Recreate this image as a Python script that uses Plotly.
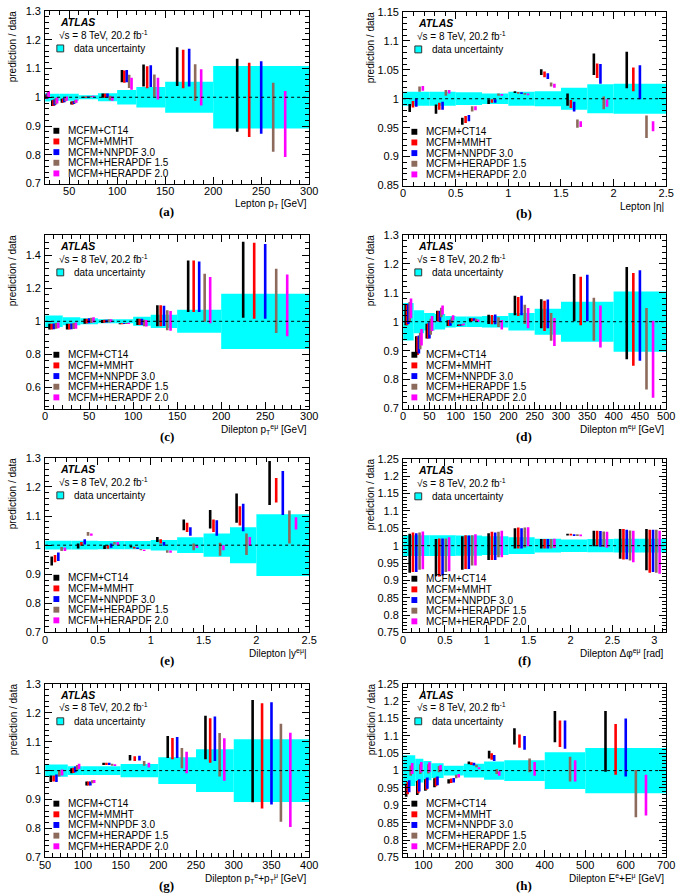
import plotly.graph_objects as go

# ---------------- data ----------------
PDF_NAMES = ["MCFM+CT14", "MCFM+MMHT", "MCFM+NNPDF 3.0", "MCFM+HERAPDF 1.5", "MCFM+HERAPDF 2.0"]

# (a) Lepton pT
A_EDGES = [25, 30, 40, 50, 60, 80, 100, 120, 150, 200, 300]
A_UNC = [0.015, 0.012, 0.012, 0.012, 0.007, 0.014, 0.025, 0.036, 0.054, 0.109]
A_CT14 = [(0.994, 1.010), (0.970, 0.990), (0.981, 0.995), (0.975, 0.985), (0.998, 1.002), (0.998, 1.013), (1.052, 1.095), (1.037, 1.114), (1.039, 1.174), (0.880, 1.134)]
A_MMHT = [(0.995, 1.012), (0.970, 0.991), (0.982, 0.996), (0.975, 0.986), (0.998, 1.003), (0.998, 1.013), (1.050, 1.093), (1.031, 1.108), (1.031, 1.165), (0.862, 1.120)]
A_NNPDF = [(0.996, 1.013), (0.972, 0.993), (0.983, 0.997), (0.977, 0.987), (0.999, 1.003), (0.998, 1.013), (1.052, 1.095), (1.036, 1.111), (1.037, 1.169), (0.873, 1.125)]
A_HERA15 = [(0.998, 1.018), (0.975, 0.997), (0.986, 1.000), (0.979, 0.990), (1.000, 1.004), (0.990, 1.005), (1.032, 1.078), (1.002, 1.079), (0.987, 1.115), (0.811, 1.050)]
A_HERA20 = [(1.000, 1.022), (0.978, 1.000), (0.988, 1.003), (0.981, 0.992), (1.000, 1.005), (0.988, 1.003), (1.026, 1.068), (0.992, 1.068), (0.971, 1.097), (0.792, 1.022)]

# (b) Lepton |eta|
B_EDGES = [0, 0.25, 0.5, 0.75, 1.0, 1.25, 1.5, 1.75, 2.0, 2.5]
B_UNC = [0.012, 0.012, 0.011, 0.009, 0.012, 0.013, 0.019, 0.025, 0.026]
B_CT14 = [(0.977, 0.991), (0.974, 0.990), (0.955, 0.967), (0.991, 0.999), (1.010, 1.013), (1.041, 1.051), (0.988, 1.009), (1.041, 1.078), (1.018, 1.081)]
B_MMHT = [(0.985, 0.996), (0.981, 0.993), (0.958, 0.970), (0.993, 0.999), (1.009, 1.011), (1.037, 1.047), (0.984, 0.998), (1.036, 1.061), (1.013, 1.054)]
B_NNPDF = [(0.986, 1.000), (0.981, 0.995), (0.961, 0.972), (0.993, 0.999), (1.008, 1.011), (1.034, 1.044), (0.978, 0.995), (1.026, 1.060), (0.999, 1.058)]
B_HERA15 = [(1.012, 1.021), (1.005, 1.015), (0.978, 0.987), (1.005, 1.009), (1.007, 1.010), (1.021, 1.028), (0.950, 0.964), (0.982, 1.004), (0.932, 0.971)]
B_HERA20 = [(1.014, 1.022), (1.009, 1.015), (0.980, 0.987), (1.005, 1.008), (1.006, 1.009), (1.019, 1.026), (0.951, 0.961), (0.986, 0.999), (0.944, 0.961)]

# (c) Dilepton pT
C_EDGES = [0, 20, 40, 60, 80, 100, 120, 150, 200, 300]
C_UNC = [0.035, 0.024, 0.018, 0.012, 0.012, 0.027, 0.040, 0.070, 0.168]
C_CT14 = [(0.950, 0.985), (0.950, 0.985), (0.985, 1.015), (0.990, 1.008), (0.982, 0.988), (0.978, 1.015), (0.970, 1.097), (1.057, 1.370), (1.022, 1.483)]
C_MMHT = [(0.950, 0.985), (0.950, 0.985), (0.986, 1.016), (0.991, 1.009), (0.982, 0.988), (0.978, 1.016), (0.970, 1.097), (1.057, 1.370), (1.016, 1.477)]
C_NNPDF = [(0.952, 0.987), (0.951, 0.987), (0.988, 1.018), (0.992, 1.010), (0.983, 0.989), (0.978, 1.016), (0.972, 1.094), (1.057, 1.364), (1.016, 1.469)]
C_HERA15 = [(0.955, 0.990), (0.953, 0.990), (0.990, 1.022), (0.993, 1.012), (0.983, 0.990), (0.970, 1.010), (0.946, 1.067), (0.998, 1.289), (0.929, 1.319)]
C_HERA20 = [(0.958, 0.993), (0.955, 0.993), (0.992, 1.025), (0.994, 1.013), (0.984, 0.991), (0.968, 1.008), (0.943, 1.062), (0.988, 1.269), (0.909, 1.285)]

# (d) Dilepton mass
D_EDGES = [0, 20, 40, 60, 80, 100, 120, 150, 200, 250, 300, 400, 500]
D_UNC = [0.065, 0.040, 0.030, 0.027, 0.020, 0.018, 0.018, 0.020, 0.030, 0.045, 0.069, 0.104]
D_CT14 = [(0.988, 1.060), (0.886, 0.950), (0.942, 0.993), (1.002, 1.038), (0.985, 1.005), (0.985, 0.990), (1.002, 1.012), (0.992, 1.024), (1.022, 1.090), (0.977, 1.078), (1.002, 1.165), (0.870, 1.189)]
D_MMHT = [(0.988, 1.058), (0.885, 0.948), (0.942, 0.994), (1.000, 1.037), (0.985, 1.006), (0.985, 0.990), (1.002, 1.012), (0.991, 1.023), (1.020, 1.085), (0.968, 1.072), (0.988, 1.155), (0.848, 1.168)]
D_NNPDF = [(0.992, 1.062), (0.890, 0.952), (0.942, 0.998), (1.002, 1.038), (0.986, 1.007), (0.986, 0.991), (1.003, 1.012), (0.991, 1.025), (1.022, 1.090), (0.977, 1.077), (1.002, 1.162), (0.865, 1.178)]
D_HERA15 = [(1.000, 1.068), (0.905, 0.962), (0.955, 1.010), (1.015, 1.048), (0.995, 1.015), (0.987, 0.992), (1.000, 1.010), (0.982, 1.015), (0.992, 1.059), (0.934, 1.030), (0.934, 1.083), (0.766, 1.047)]
D_HERA20 = [(1.012, 1.080), (0.918, 0.975), (0.968, 1.020), (1.024, 1.056), (1.005, 1.022), (0.988, 0.994), (0.999, 1.008), (0.973, 1.006), (0.977, 1.047), (0.916, 1.013), (0.911, 1.056), (0.737, 1.003)]

# (e) Dilepton |y|
E_EDGES = [0, 0.25, 0.5, 0.75, 1.0, 1.25, 1.5, 1.75, 2.0, 2.5]
E_UNC = [0.015, 0.015, 0.014, 0.014, 0.018, 0.027, 0.040, 0.062, 0.106]
E_CT14 = [(0.930, 0.961), (0.989, 1.006), (0.987, 1.000), (0.992, 0.998), (1.011, 1.028), (1.051, 1.088), (1.057, 1.121), (1.077, 1.178), (1.138, 1.289)]
E_MMHT = [(0.941, 0.966), (0.998, 1.011), (0.988, 1.000), (0.989, 0.995), (1.006, 1.020), (1.045, 1.077), (1.045, 1.088), (1.068, 1.134), (1.147, 1.231)]
E_NNPDF = [(0.946, 0.975), (1.002, 1.020), (0.991, 1.006), (0.987, 0.992), (0.998, 1.011), (1.032, 1.062), (1.032, 1.086), (1.048, 1.142), (1.104, 1.255)]
E_HERA15 = [(0.980, 0.994), (1.032, 1.045), (1.002, 1.011), (0.983, 0.987), (0.974, 0.983), (0.983, 1.006), (0.964, 1.008), (0.966, 1.040), (1.006, 1.119)]
E_HERA20 = [(0.980, 0.992), (1.032, 1.040), (1.000, 1.011), (0.980, 0.984), (0.974, 0.982), (0.990, 1.000), (0.983, 1.000), (0.998, 1.028), (1.054, 1.096)]

# (f) Dilepton delta phi
F_EDGES = [0, 0.314, 0.628, 0.942, 1.257, 1.571, 1.885, 2.199, 2.513, 2.827, 3.1416]
F_UNC = [0.030, 0.030, 0.029, 0.027, 0.024, 0.020, 0.018, 0.019, 0.020, 0.020]
F_CT14 = [(0.922, 1.034), (0.912, 1.019), (0.931, 1.027), (0.959, 1.036), (0.992, 1.050), (0.992, 1.019), (1.029, 1.034), (0.998, 1.043), (0.962, 1.048), (0.929, 1.048)]
F_MMHT = [(0.924, 1.038), (0.911, 1.021), (0.933, 1.030), (0.959, 1.040), (0.992, 1.052), (0.992, 1.019), (1.029, 1.034), (0.998, 1.043), (0.960, 1.048), (0.922, 1.046)]
F_NNPDF = [(0.924, 1.036), (0.914, 1.021), (0.933, 1.029), (0.959, 1.038), (0.992, 1.050), (0.992, 1.019), (1.028, 1.033), (0.997, 1.042), (0.961, 1.046), (0.924, 1.046)]
F_HERA15 = [(0.931, 1.038), (0.924, 1.021), (0.943, 1.030), (0.967, 1.040), (0.995, 1.052), (0.992, 1.019), (1.028, 1.033), (0.996, 1.041), (0.957, 1.044), (0.922, 1.046)]
F_HERA20 = [(0.932, 1.041), (0.926, 1.024), (0.943, 1.033), (0.967, 1.043), (0.998, 1.053), (0.993, 1.020), (1.027, 1.032), (0.994, 1.040), (0.952, 1.043), (0.919, 1.043)]

# (g) Dilepton pT(e)+pT(mu)
G_EDGES = [50, 80, 100, 120, 150, 200, 250, 300, 400]
G_UNC = [0.021, 0.015, 0.015, 0.015, 0.023, 0.046, 0.074, 0.108]
G_CT14 = [(0.961, 0.983), (0.991, 1.008), (0.949, 0.962), (1.019, 1.027), (1.035, 1.054), (1.044, 1.120), (1.039, 1.190), (0.891, 1.244)]
G_MMHT = [(0.962, 0.983), (0.992, 1.010), (0.949, 0.962), (1.019, 1.027), (1.033, 1.050), (1.039, 1.113), (1.027, 1.181), (0.869, 1.233)]
G_NNPDF = [(0.961, 0.987), (0.994, 1.014), (0.949, 0.962), (1.019, 1.027), (1.035, 1.051), (1.044, 1.116), (1.033, 1.187), (0.883, 1.236)]
G_HERA15 = [(0.980, 1.002), (1.002, 1.019), (0.956, 0.967), (1.017, 1.024), (1.017, 1.033), (1.008, 1.078), (0.980, 1.130), (0.823, 1.162)]
G_HERA20 = [(0.983, 1.004), (1.006, 1.024), (0.957, 0.968), (1.016, 1.022), (1.011, 1.027), (0.991, 1.065), (0.965, 1.112), (0.805, 1.131)]

# (h) Dilepton E(e)+E(mu)
H_EDGES = [50, 80, 100, 120, 150, 200, 250, 300, 400, 500, 700]
H_UNC = [0.044, 0.034, 0.028, 0.021, 0.014, 0.020, 0.026, 0.030, 0.053, 0.065]
H_CT14 = [(0.925, 0.962), (0.930, 0.970), (0.942, 0.975), (0.952, 0.978), (0.963, 0.975), (1.018, 1.026), (1.035, 1.057), (1.075, 1.122), (1.082, 1.172), (0.997, 1.172)]
H_MMHT = [(0.932, 0.968), (0.935, 0.972), (0.945, 0.977), (0.955, 0.980), (0.964, 0.977), (1.016, 1.024), (1.031, 1.050), (1.066, 1.104), (1.068, 1.144), (0.988, 1.134)]
H_NNPDF = [(0.938, 0.972), (0.940, 0.975), (0.948, 0.980), (0.958, 0.983), (0.966, 0.979), (1.015, 1.023), (1.028, 1.045), (1.060, 1.100), (1.063, 1.144), (0.983, 1.150)]
H_HERA15 = [(0.985, 1.015), (0.990, 1.018), (0.992, 1.018), (0.995, 1.013), (0.978, 0.988), (1.010, 1.017), (0.990, 1.005), (0.995, 1.035), (0.969, 1.040), (0.866, 1.002)]
H_HERA20 = [(0.990, 1.022), (0.995, 1.025), (0.996, 1.024), (0.998, 1.016), (0.980, 0.990), (1.004, 1.010), (0.985, 0.998), (0.985, 1.025), (0.969, 1.030), (0.871, 0.988)]

# tick labels
Y_TICKS_A = ["0.7", "0.8", "0.9", "1", "1.1", "1.2", "1.3"]
Y_TICKS_B = ["0.85", "0.9", "0.95", "1", "1.05", "1.1", "1.15"]
Y_TICKS_C = ["0.6", "0.8", "1", "1.2", "1.4"]
Y_TICKS_F = ["0.75", "0.8", "0.85", "0.9", "0.95", "1", "1.05", "1.1", "1.15", "1.2", "1.25"]
X_TICKS_A = ["50", "100", "150", "200", "250", "300"]
X_TICKS_B = ["0", "0.5", "1", "1.5", "2", "2.5"]
X_TICKS_C = ["0", "50", "100", "150", "200", "250", "300"]
X_TICKS_D = ["0", "50", "100", "150", "200", "250", "300", "350", "400", "450", "500"]
X_TICKS_F = ["0", "0.5", "1", "1.5", "2", "2.5", "3"]
X_TICKS_G = ["50", "100", "150", "200", "250", "300", "350", "400"]
X_TICKS_H = ["100", "200", "300", "400", "500", "600", "700"]

X_TITLES = [
    "Lepton p<sub>T</sub> [GeV]",
    "Lepton |η|",
    "Dilepton p<sub>T</sub><sup>eμ</sup> [GeV]",
    "Dilepton m<sup>eμ</sup> [GeV]",
    "Dilepton |y<sup>eμ</sup>|",
    "Dilepton Δφ<sup>eμ</sup> [rad]",
    "Dilepton p<sub>T</sub><sup>e</sup>+p<sub>T</sub><sup>μ</sup> [GeV]",
    "Dilepton E<sup>e</sup>+E<sup>μ</sup> [GeV]",
]
PANEL_LABELS = ["(a)", "(b)", "(c)", "(d)", "(e)", "(f)", "(g)", "(h)"]

# ---------------- style ----------------
W, H = 685, 896
FONT = "Liberation Sans, Arial, Helvetica, sans-serif"
SERIF = "Liberation Serif, Times New Roman, serif"
PDF_COLORS = ["#000000", "#ff0000", "#0000ff", "#8c6a5c", "#ff00ff"]
BAND_COLOR = "#00ffff"
OFFSETS = [0.25, 0.375, 0.5, 0.625, 0.75]

# pixel boxes (left, top, right, bottom)
BOXES = [
    (40, 5, 310, 180), (406, 6, 675, 182),
    (40, 232, 310, 408), (406, 232, 675, 408),
    (40, 458, 310, 635), (406, 459, 675, 635),
    (40, 687, 310, 863), (406, 687, 675, 863),
]

panels = [
    dict(edges=A_EDGES, unc=A_UNC, preds=[A_CT14, A_MMHT, A_NNPDF, A_HERA15, A_HERA20],
         xr=[25, 300], yr=[0.7, 1.3], xt=X_TICKS_A, yt=Y_TICKS_A, xm=10, ym=0.02),
    dict(edges=B_EDGES, unc=B_UNC, preds=[B_CT14, B_MMHT, B_NNPDF, B_HERA15, B_HERA20],
         xr=[0, 2.5], yr=[0.85, 1.15], xt=X_TICKS_B, yt=Y_TICKS_B, xm=0.1, ym=0.01),
    dict(edges=C_EDGES, unc=C_UNC, preds=[C_CT14, C_MMHT, C_NNPDF, C_HERA15, C_HERA20],
         xr=[0, 300], yr=[0.47, 1.525], xt=X_TICKS_C, yt=Y_TICKS_C, xm=10, ym=0.04),
    dict(edges=D_EDGES, unc=D_UNC, preds=[D_CT14, D_MMHT, D_NNPDF, D_HERA15, D_HERA20],
         xr=[0, 500], yr=[0.7, 1.3], xt=X_TICKS_D, yt=Y_TICKS_A, xm=10, ym=0.02),
    dict(edges=E_EDGES, unc=E_UNC, preds=[E_CT14, E_MMHT, E_NNPDF, E_HERA15, E_HERA20],
         xr=[0, 2.5], yr=[0.7, 1.3], xt=X_TICKS_B, yt=Y_TICKS_A, xm=0.1, ym=0.02),
    dict(edges=F_EDGES, unc=F_UNC, preds=[F_CT14, F_MMHT, F_NNPDF, F_HERA15, F_HERA20],
         xr=[0, 3.1416], yr=[0.75, 1.25], xt=X_TICKS_F, yt=Y_TICKS_F, xm=0.1, ym=0.01),
    dict(edges=G_EDGES, unc=G_UNC, preds=[G_CT14, G_MMHT, G_NNPDF, G_HERA15, G_HERA20],
         xr=[50, 400], yr=[0.7, 1.3], xt=X_TICKS_G, yt=Y_TICKS_A, xm=10, ym=0.02),
    dict(edges=H_EDGES, unc=H_UNC, preds=[H_CT14, H_MMHT, H_NNPDF, H_HERA15, H_HERA20],
         xr=[50, 700], yr=[0.75, 1.25], xt=X_TICKS_H, yt=Y_TICKS_F, xm=20, ym=0.01),
]


def px(x):
    return x / W


def py(y):
    return 1 - y / H


fig = go.Figure()
annotations = []
shapes = []

for i, (p, box) in enumerate(zip(panels, BOXES), start=1):
    sfx = "" if i == 1 else str(i)
    xa, ya = "x" + sfx, "y" + sfx
    L, T, R, B = box
    edges = p["edges"]
    lows = edges[:-1]
    highs = edges[1:]
    centers = [(a + b) / 2 for a, b in zip(lows, highs)]
    widths = [b - a for a, b in zip(lows, highs)]

    # data uncertainty band
    fig.add_trace(go.Bar(
        x=centers, y=[2 * u for u in p["unc"]], base=[1 - u for u in p["unc"]],
        width=widths, marker=dict(color=BAND_COLOR, line=dict(width=0)),
        xaxis=xa, yaxis=ya, hoverinfo="skip", showlegend=False))

    # predictions
    for k, pred in enumerate(p["preds"]):
        xs, ys = [], []
        for lo_e, w, (ylo, yhi) in zip(lows, widths, pred):
            xpos = lo_e + OFFSETS[k] * w
            xs += [xpos, xpos, None]
            ys += [ylo, yhi, None]
        fig.add_trace(go.Scatter(
            x=xs, y=ys, mode="lines", line=dict(color=PDF_COLORS[k], width=2.6),
            xaxis=xa, yaxis=ya, showlegend=False, name=PDF_NAMES[k], hoverinfo="skip"))

    # axes
    xvals = [float(t) for t in p["xt"]]
    yvals = [float(t) for t in p["yt"]]
    common = dict(showgrid=False, zeroline=False, showline=True, linecolor="black", linewidth=1,
                  mirror="allticks", ticks="inside", ticklen=7, tickwidth=1, tickcolor="black",
                  tickfont=dict(family=FONT, size=11, color="black"), tickmode="array")
    fig.layout["xaxis" + sfx] = dict(
        common, domain=[px(L), px(R)], anchor=ya, range=p["xr"],
        tickvals=xvals, ticktext=p["xt"], ticklabelstandoff=-3,
        minor=dict(ticks="inside", ticklen=4, tickwidth=1, tickcolor="black",
                   tick0=0, dtick=p["xm"], showgrid=False))
    fig.layout["yaxis" + sfx] = dict(
        common, domain=[py(B), py(T)], anchor=xa, range=p["yr"],
        tickvals=yvals, ticktext=p["yt"], ticklabelstandoff=1,
        minor=dict(ticks="inside", ticklen=4, tickwidth=1, tickcolor="black",
                   tick0=0, dtick=p["ym"], showgrid=False))

    # dotted reference line at 1
    shapes.append(dict(type="line", xref=xa + " domain", yref=ya, x0=0, x1=1, y0=1, y1=1,
                       line=dict(color="black", width=1, dash="dot"), layer="above"))

    # texts
    annotations.append(dict(x=px(L + 13), y=py(T + 11), xref="paper", yref="paper", showarrow=False,
                            xanchor="left", yanchor="middle", text="<b><i>ATLAS</i></b>",
                            font=dict(family=FONT, size=10.5, color="black")))
    annotations.append(dict(x=px(L + 12), y=py(T + 24), xref="paper", yref="paper", showarrow=False,
                            xanchor="left", yanchor="middle", text="√s = 8 TeV, 20.2 fb<sup>-1</sup>",
                            font=dict(family=FONT, size=10, color="black")))
    shapes.append(dict(type="rect", xref="paper", yref="paper",
                       x0=px(L + 12), x1=px(L + 19), y0=py(T + 41.5), y1=py(T + 34.5),
                       fillcolor=BAND_COLOR, line=dict(color="#333333", width=1)))
    annotations.append(dict(x=px(L + 27), y=py(T + 38), xref="paper", yref="paper", showarrow=False,
                            xanchor="left", yanchor="middle", text="data uncertainty",
                            font=dict(family=FONT, size=10, color="black")))
    for k, name in enumerate(PDF_NAMES):
        yc = T + 121.5 + 10.8 * k
        shapes.append(dict(type="rect", xref="paper", yref="paper",
                           x0=px(L + 8.5), x1=px(L + 14.5), y0=py(yc + 3), y1=py(yc - 3),
                           fillcolor=PDF_COLORS[k], line=dict(width=0)))
        annotations.append(dict(x=px(L + 21), y=py(yc), xref="paper", yref="paper", showarrow=False,
                                xanchor="left", yanchor="middle", text=name,
                                font=dict(family=FONT, size=10, color="black")))
    # axis titles
    annotations.append(dict(x=px(R), y=py(B + 21), xref="paper", yref="paper", showarrow=False,
                            xanchor="right", yanchor="middle", text=X_TITLES[i - 1],
                            font=dict(family=FONT, size=10, color="black")))
    annotations.append(dict(x=px(L - 33), y=py(T + 36), xref="paper", yref="paper", showarrow=False,
                            xanchor="center", yanchor="middle", text="prediction / data", textangle=-90,
                            font=dict(family=FONT, size=10, color="black")))
    annotations.append(dict(x=px(L + 0.46 * (R - L)), y=py(B + 28), xref="paper", yref="paper",
                            showarrow=False, xanchor="center", yanchor="middle",
                            text="<b>" + PANEL_LABELS[i - 1] + "</b>",
                            font=dict(family=SERIF, size=13, color="black")))

fig.update_layout(
    width=W, height=H, margin=dict(l=0, r=0, t=0, b=0),
    paper_bgcolor="white", plot_bgcolor="white", showlegend=False,
    barmode="overlay", annotations=annotations, shapes=shapes,
    font=dict(family=FONT, color="black"),
)

fig.write_html(
    "out.html",
    config={"displayModeBar": False},
    post_script="document.body.style.margin='0';document.body.style.padding='0';",
)
